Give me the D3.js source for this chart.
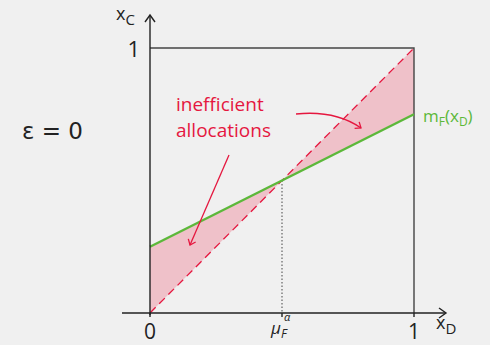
<!DOCTYPE html>
<html>
<head>
<meta charset="utf-8">
<script src="https://cdn.jsdelivr.net/npm/d3@7"></script>
<style>
  html, body { margin: 0; padding: 0; background: #f0f0f0; }
  svg { display: block; font-family: "Open Sans", "DejaVu Sans", sans-serif; }
</style>
</head>
<body>
<div id="chart"></div>
<script>
// values
const mInt = 0.25;      // m_F(0)
const mEnd = 0.75;      // m_F(1)
const muF = 0.5;        // crossing point mu_F^alpha
const diag = [[0, 0], [1, 1]];
const mLine = [[0, mInt], [1, mEnd]];
const lowRegion = [[0, 0], [0, mInt], [muF, muF]];
const highRegion = [[muF, muF], [1, mEnd], [1, 1]];

const width = 490, height = 345;
const red = '#e5173f', pink = '#efc1c9', green = '#5cb83a', ink = '#222';

const svg = d3.select('#chart').append('svg').attr('width', width).attr('height', height);

const x = d3.scaleLinear().domain([0, 1]).range([150, 414]);
const y = d3.scaleLinear().domain([0, 1]).range([313, 48]);
const line = d3.line().x(d => x(d[0])).y(d => y(d[1]));

svg.append('defs').append('marker')
  .attr('id', 'arr').attr('viewBox', '-6 -6 12 12').attr('refX', 0).attr('refY', 0)
  .attr('markerWidth', 12).attr('markerHeight', 12).attr('orient', 'auto')
  .attr('markerUnits', 'userSpaceOnUse')
  .append('path').attr('d', 'M-5,-4 L0,0 L-5,4').attr('fill', 'none').attr('stroke', red).attr('stroke-width', 1.3);

// shaded regions
[lowRegion, highRegion].forEach(r => {
  svg.append('path').attr('d', line(r) + 'Z').attr('fill', pink);
});

// box
svg.append('path')
  .attr('d', `M${x(0)},${y(1)}H${x(1)}V${y(0)}`)
  .attr('fill', 'none').attr('stroke', '#444').attr('stroke-width', 1.4);

// dotted guide
svg.append('line').attr('x1', x(muF)).attr('x2', x(muF)).attr('y1', y(muF)).attr('y2', y(0))
  .attr('stroke', '#444').attr('stroke-width', 1).attr('stroke-dasharray', '1.5,2');

// diagonal
svg.append('path').attr('d', line(diag)).attr('fill', 'none')
  .attr('stroke', red).attr('stroke-width', 1.3).attr('stroke-dasharray', '8,5');

// m_F
svg.append('path').attr('d', line(mLine)).attr('fill', 'none')
  .attr('stroke', green).attr('stroke-width', 2.4);

// axes
const axisG = svg.append('g').attr('stroke', ink).attr('fill', 'none').attr('stroke-width', 1.4);
axisG.append('line').attr('x1', 122).attr('x2', 445).attr('y1', y(0)).attr('y2', y(0));
axisG.append('path').attr('d', `M439,${y(0) - 5} L446,${y(0)} L439,${y(0) + 5}`);
axisG.append('line').attr('x1', x(0)).attr('x2', x(0)).attr('y1', y(0) + 2).attr('y2', 16);
axisG.append('path').attr('d', `M${x(0) - 5},22 L${x(0)},15 L${x(0) + 5},22`);

const xTicks = [0, muF, 1];
axisG.selectAll('.tk').data(xTicks).enter().append('line')
  .attr('x1', d => x(d)).attr('x2', d => x(d)).attr('y1', y(0)).attr('y2', y(0) + 4);

// labels
const t = svg.append('g').attr('fill', ink);
t.append('text').attr('x', x(0)).attr('y', 339).attr('text-anchor', 'middle').attr('font-size', 21).text('0');
t.append('text').attr('x', x(1)).attr('y', 339).attr('text-anchor', 'middle').attr('font-size', 21).text('1');
t.append('text').attr('x', 140).attr('y', 57).attr('text-anchor', 'end').attr('font-size', 22).text('1');

const mu = t.append('text').attr('x', 271).attr('y', 334).attr('font-size', 17).attr('font-style', 'italic');
mu.append('tspan').text('μ');
mu.append('tspan').attr('dy', 4).attr('font-size', 12).text('F');
t.append('text').attr('x', 284).attr('y', 321).attr('font-size', 11).attr('font-style', 'italic').text('α');

const xc = t.append('text').attr('x', 116).attr('y', 20).attr('font-size', 18);
xc.append('tspan').text('x');
xc.append('tspan').attr('dy', 5).attr('font-size', 15).text('C');

const xd = t.append('text').attr('x', 436).attr('y', 329).attr('font-size', 18);
xd.append('tspan').text('x');
xd.append('tspan').attr('dy', 5).attr('font-size', 15).text('D');

t.append('text').attr('x', 22).attr('y', 139).attr('font-size', 23).attr('font-family', '"DejaVu Sans", sans-serif')
  .text('ε = 0');

const mf = svg.append('text').attr('x', 423).attr('y', 122).attr('fill', green).attr('font-size', 17);
mf.append('tspan').text('m');
mf.append('tspan').attr('dy', 4).attr('font-size', 12).text('F');
mf.append('tspan').attr('dy', -4).text('(x');
mf.append('tspan').attr('dy', 4).attr('font-size', 12).text('D');
mf.append('tspan').attr('dy', -4).text(')');

const ann = svg.append('g').attr('fill', red).attr('font-size', 19);
ann.append('text').attr('x', 176).attr('y', 111).text('inefficient');
ann.append('text').attr('x', 176).attr('y', 137).text('allocations');

svg.append('path').attr('d', 'M229,155 L190,245')
  .attr('fill', 'none').attr('stroke', red).attr('stroke-width', 1.3).attr('marker-end', 'url(#arr)');
svg.append('path').attr('d', 'M296,114 Q335,110 361,128')
  .attr('fill', 'none').attr('stroke', red).attr('stroke-width', 1.3).attr('marker-end', 'url(#arr)');
</script>
</body>
</html>
